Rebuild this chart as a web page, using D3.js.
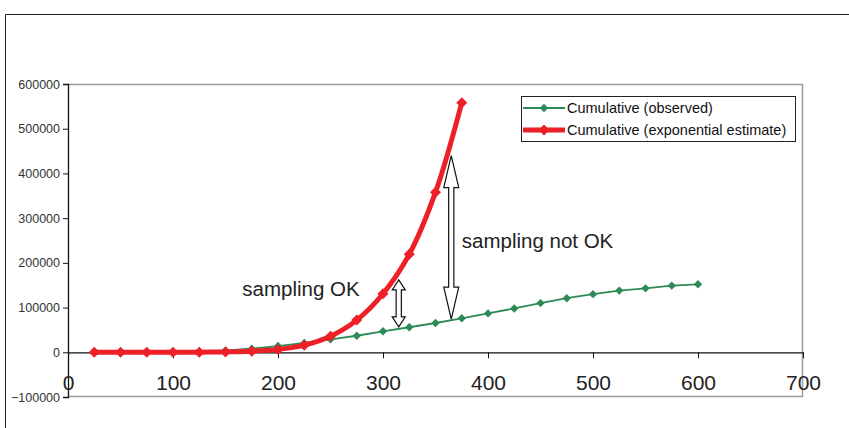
<!DOCTYPE html>
<html>
<head>
<meta charset="utf-8">
<script src="https://cdn.jsdelivr.net/npm/d3@7"></script>
<style>
  body { margin: 0; background: #fff; }
  text { font-family: "Liberation Sans", Arial, sans-serif; }
</style>
</head>
<body>
<div id="chart"></div>
<script>
// data
const xObserved = [25, 50, 75, 100, 125, 150, 175, 200, 225, 250, 275, 300, 325, 350, 375, 400, 425, 450, 475, 500, 525, 550, 575, 600];
const observed  = [0, 0, 0, 500, 1500, 4000, 8000, 14000, 21000, 29000, 37000, 47000, 56000, 65500, 76000, 87000, 98000, 110000, 121000, 130000, 138000, 143000, 149000, 152000];
const xEstimate = [25, 50, 75, 100, 125, 150, 175, 200, 225, 250, 275, 300, 325, 350, 375];
const estimate  = [0, 0, 0, 100, 300, 900, 2500, 6500, 16000, 36000, 72000, 131000, 219000, 358000, 558000];
const xTicks = [0, 100, 200, 300, 400, 500, 600, 700];
const yTicks = [-100000, 0, 100000, 200000, 300000, 400000, 500000, 600000];
const seriesNames = ["Cumulative (observed)", "Cumulative (exponential estimate)"];
// annotation arrows: [x, from, to] in data units
const arrows = [[315, 57000, 162000], [365, 74000, 440000]];
const notes = [
  { x: 166, y: 142000, label: "sampling OK" },
  { x: 375, y: 249000, label: "sampling not OK" }
];

const W = 849, H = 428;
const mLeft = 68, mRight = 803, mTop = 84, mBottom = 397;
const green = "#2e8b57", red = "#ee2027";

const svg = d3.select("#chart").append("svg")
  .attr("width", W).attr("height", H);

// outer chart frame
svg.append("path")
  .attr("d", `M5.5,${H} V14.5 H${W}`)
  .attr("fill", "none").attr("stroke", "#222").attr("stroke-width", 1);

const x = d3.scaleLinear().domain([0, 700]).range([mLeft, mRight]);
const y = d3.scaleLinear().domain([-100000, 600000]).range([mBottom, mTop]);

// plot area border (grey)
svg.append("path")
  .attr("d", `M${mLeft},${mTop + 0.5} H${mRight - 0.5} V${mBottom - 0.5} H${mLeft}`)
  .attr("fill", "none").attr("stroke", "#9a9a9a").attr("stroke-width", 1.5);

// y axis
const yAxis = svg.append("g")
  .attr("transform", `translate(${mLeft},0)`)
  .call(d3.axisLeft(y).tickValues(yTicks).tickSize(5).tickPadding(3).tickFormat(d3.format("d")));
yAxis.select(".domain").attr("stroke", "#111").attr("stroke-width", 1.3);
yAxis.selectAll(".tick line").attr("stroke", "#111");
yAxis.selectAll("text").attr("font-size", 12.5).attr("fill", "#333")
  .attr("font-family", "'Liberation Sans', Arial, sans-serif");

// x axis on the zero line
const xAxis = svg.append("g")
  .attr("transform", `translate(0,${y(0)})`)
  .call(d3.axisBottom(x).tickValues(xTicks).tickSize(6).tickSizeOuter(0).tickFormat(d3.format("d")));
xAxis.select(".domain").attr("stroke", "#111").attr("stroke-width", 1.2);
xAxis.selectAll(".tick line").attr("stroke", "#111");
xAxis.selectAll("text").attr("font-size", 21).attr("fill", "#222")
  .attr("y", 30).attr("dy", "0.35em")
  .attr("font-family", "'Liberation Sans', Arial, sans-serif");

function diamond(r) {
  return `M0,${-r} L${r},0 L0,${r} L${-r},0 Z`;
}

// observed series
const obs = xObserved.map((d, i) => [d, observed[i]]);
svg.append("path").datum(obs)
  .attr("d", d3.line().x(d => x(d[0])).y(d => y(d[1])))
  .attr("fill", "none").attr("stroke", green).attr("stroke-width", 1.8);
svg.selectAll(".mo").data(obs).enter().append("path")
  .attr("transform", d => `translate(${x(d[0])},${y(d[1])})`)
  .attr("d", diamond(4.2)).attr("fill", green);

// exponential estimate
const est = xEstimate.map((d, i) => [d, estimate[i]]);
svg.append("path").datum(est)
  .attr("d", d3.line().curve(d3.curveCatmullRom.alpha(0.5)).x(d => x(d[0])).y(d => y(d[1])))
  .attr("fill", "none").attr("stroke", red).attr("stroke-width", 5)
  .attr("stroke-linejoin", "round");
svg.selectAll(".me").data(est).enter().append("path")
  .attr("transform", d => `translate(${x(d[0])},${y(d[1])})`)
  .attr("d", diamond(5.5)).attr("fill", red);

// double headed hollow arrows
arrows.forEach(([ax, a, b]) => {
  const cx = x(ax), y1 = y(b), y2 = y(a);
  const len = y2 - y1;
  const hl = len > 100 ? 32 : 10, hw = len > 100 ? 7.5 : 6.5, sw = 2.6;
  const p = [
    [cx, y1], [cx + hw, y1 + hl], [cx + sw, y1 + hl], [cx + sw, y2 - hl], [cx + hw, y2 - hl],
    [cx, y2], [cx - hw, y2 - hl], [cx - sw, y2 - hl], [cx - sw, y1 + hl], [cx - hw, y1 + hl]
  ];
  svg.append("path")
    .attr("d", "M" + p.map(q => q.join(",")).join("L") + "Z")
    .attr("fill", "#fff").attr("stroke", "#111").attr("stroke-width", 1.2);
});

notes.forEach(n => {
  svg.append("text")
    .attr("x", x(n.x)).attr("y", y(n.y))
    .attr("dy", "0.35em")
    .attr("font-size", 20.5).attr("fill", "#222")
    .text(n.label);
});

// legend
const lg = svg.append("g");
lg.append("rect")
  .attr("x", 521.5).attr("y", 96.5).attr("width", 274).attr("height", 45)
  .attr("fill", "#fff").attr("stroke", "#222").attr("stroke-width", 1);
const legendRows = [
  { name: seriesNames[0], color: green, w: 1.8, r: 4.2, cy: 108 },
  { name: seriesNames[1], color: red, w: 5, r: 5.5, cy: 130 }
];
legendRows.forEach(r => {
  lg.append("line").attr("x1", 523).attr("x2", 565).attr("y1", r.cy).attr("y2", r.cy)
    .attr("stroke", r.color).attr("stroke-width", r.w);
  lg.append("path").attr("transform", `translate(544,${r.cy})`)
    .attr("d", diamond(r.r)).attr("fill", r.color);
  lg.append("text").attr("x", 567).attr("y", r.cy).attr("dy", "0.35em")
    .attr("font-size", 14.5).attr("fill", "#111").text(r.name);
});
</script>
</body>
</html>
